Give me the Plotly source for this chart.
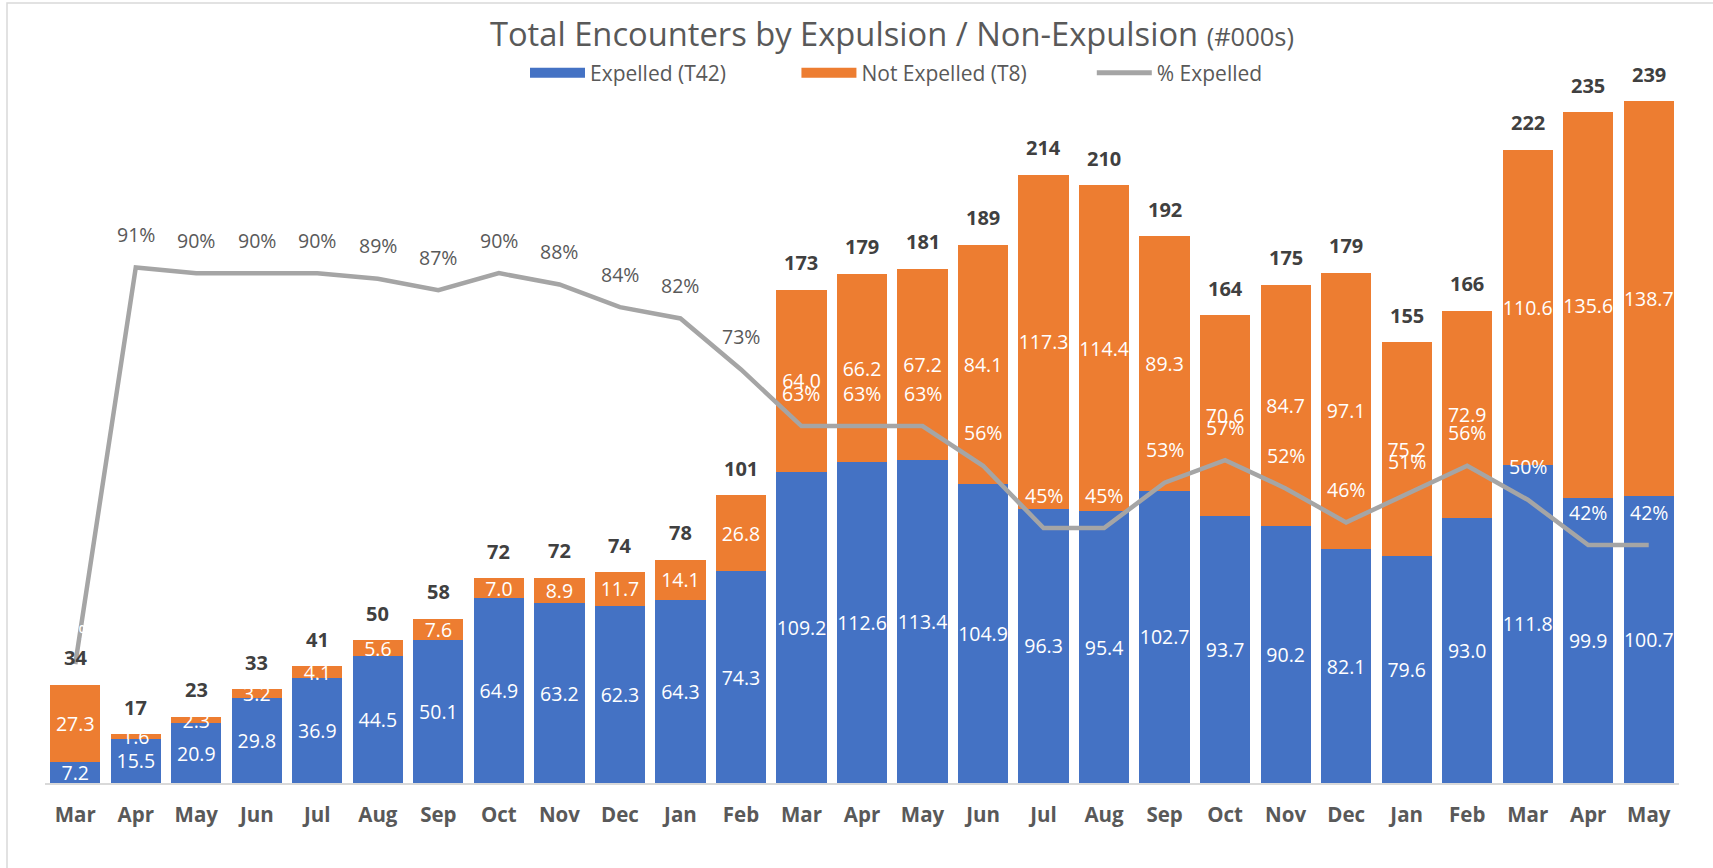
import plotly.graph_objects as go

months = ["Mar", "Apr", "May", "Jun", "Jul", "Aug", "Sep", "Oct", "Nov", "Dec", "Jan", "Feb",
          "Mar", "Apr", "May", "Jun", "Jul", "Aug", "Sep", "Oct", "Nov", "Dec", "Jan", "Feb",
          "Mar", "Apr", "May"]
expelled = [7.2, 15.5, 20.9, 29.8, 36.9, 44.5, 50.1, 64.9, 63.2, 62.3, 64.3, 74.3,
            109.2, 112.6, 113.4, 104.9, 96.3, 95.4, 102.7, 93.7, 90.2, 82.1, 79.6, 93.0,
            111.8, 99.9, 100.7]
not_expelled = [27.3, 1.6, 2.3, 3.2, 4.1, 5.6, 7.6, 7.0, 8.9, 11.7, 14.1, 26.8,
                64.0, 66.2, 67.2, 84.1, 117.3, 114.4, 89.3, 70.6, 84.7, 97.1, 75.2, 72.9,
                110.6, 135.6, 138.7]
totals = [34, 17, 23, 33, 41, 50, 58, 72, 72, 74, 78, 101,
          173, 179, 181, 189, 214, 210, 192, 164, 175, 179, 155, 166,
          222, 235, 239]
pct_expelled = [0.21, 0.91, 0.90, 0.90, 0.90, 0.89, 0.87, 0.90, 0.88, 0.84, 0.82, 0.73,
                0.63, 0.63, 0.63, 0.56, 0.45, 0.45, 0.53, 0.57, 0.52, 0.46, 0.51, 0.56,
                0.50, 0.42, 0.42]
series_names = ["Expelled (T42)", "Not Expelled (T8)", "% Expelled"]

x = list(range(len(months)))

BLUE = "#4472C4"
ORANGE = "#ED7D31"
GREY = "#A5A5A5"
TXT = "#595959"
FONT = "Open Sans"

W, H = 1713, 868
ML, MR, MT, MB = 45, 34, 71, 85
plot_w = W - ML - MR
plot_h = H - MT - MB
NB = "\u00a0"

fig = go.Figure()
fig.add_trace(go.Bar(
    x=x, y=expelled, name=series_names[0], showlegend=False, legendgroup="e",
    marker=dict(color=BLUE, line=dict(width=0)),
    text=[f"{v:.1f}" for v in expelled], textposition="inside", insidetextanchor="middle",
    textangle=0, constraintext="none", textfont=dict(color="white", size=19.5, family=FONT),
))
fig.add_trace(go.Bar(
    x=x, y=not_expelled, name=series_names[1], showlegend=False, legendgroup="n",
    marker=dict(color=ORANGE, line=dict(width=0)),
    text=[f"{v:.1f}" for v in not_expelled], textposition="inside", insidetextanchor="middle",
    textangle=0, constraintext="none", textfont=dict(color="white", size=19.5, family=FONT),
))
fig.add_trace(go.Scatter(
    x=x, y=pct_expelled, name=series_names[2], mode="lines", yaxis="y2", showlegend=False,
    legendgroup="p", line=dict(color=GREY, width=4.5),
))

# legend entries (wide swatches like the original)
fig.add_trace(go.Scatter(x=[None], y=[None], mode="lines", name=series_names[0] + NB * 12,
                         legendgroup="e", line=dict(color=BLUE, width=13)))
fig.add_trace(go.Scatter(x=[None], y=[None], mode="lines", name=series_names[1] + NB * 11,
                         legendgroup="n", line=dict(color=ORANGE, width=13)))
fig.add_trace(go.Scatter(x=[None], y=[None], mode="lines", name=series_names[2],
                         legendgroup="p", line=dict(color=GREY, width=5)))

# total labels
for i, (e, n, t) in enumerate(zip(expelled, not_expelled, totals)):
    fig.add_annotation(x=i, y=e + n, xref="x", yref="y", text=f"<b>{t}</b>", showarrow=False,
                       yshift=27, font=dict(size=20, color="#404040", family=FONT))

# percent labels
for i, p in enumerate(pct_expelled):
    col = TXT if 1 <= i <= 11 else "white"
    fig.add_annotation(x=i, y=p, xref="x", yref="y2", text=f"{round(p*100)}%", showarrow=False,
                       yshift=33, font=dict(size=19.5, color=col, family=FONT))

# chart border (left + top visible)
fig.add_shape(type="rect", xref="paper", yref="paper",
              x0=(7 - ML) / plot_w, x1=1.2,
              y0=-0.3, y1=(plot_h + MT - 3) / plot_h,
              line=dict(color="#D9D9D9", width=1.5), layer="below")

fig.update_layout(
    width=W, height=H,
    margin=dict(l=ML, r=MR, t=MT, b=MB),
    paper_bgcolor="white", plot_bgcolor="white",
    barmode="stack", bargap=0.17,
    font=dict(family=FONT, color=TXT),
    title=dict(
        text="Total Encounters by Expulsion / Non-Expulsion <span style='font-size:25.5px'>(#000s)</span>",
        x=892 / W, xanchor="center", y=1 - 35 / H, yanchor="middle",
        font=dict(size=32.7, color=TXT, family=FONT),
    ),
    legend=dict(orientation="h", x=(533 - ML - 8) / plot_w, xanchor="left",
                y=(plot_h - 2) / plot_h, yanchor="middle", itemwidth=55,
                font=dict(size=21, color=TXT, family=FONT), traceorder="normal",
                bgcolor="rgba(0,0,0,0)"),
    xaxis=dict(tickmode="array", tickvals=x, ticktext=[f"<b>{m}</b>" for m in months],
               range=[-0.5, len(months) - 0.5], showline=True, linecolor="#D9D9D9", linewidth=2,
               showgrid=False, zeroline=False, ticks="", ticklabelstandoff=12,
               tickfont=dict(size=20.5, color=TXT, family=FONT)),
    yaxis=dict(range=[0, plot_h / 2.848], visible=False, showgrid=False, zeroline=False),
    yaxis2=dict(range=[0, plot_h / 566.5], overlaying="y", side="right", visible=False,
                showgrid=False, zeroline=False),
    showlegend=True,
)

fig.write_html("out.html", config={"displayModeBar": False},
               post_script="document.body.style.margin='0';document.body.style.overflow='hidden';")
